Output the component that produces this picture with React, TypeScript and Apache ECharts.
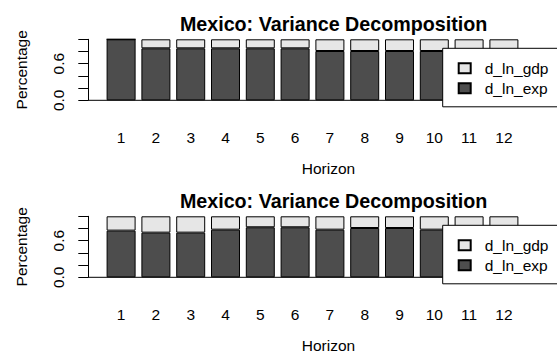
import React, { useEffect, useRef } from "react";
import * as echarts from "echarts";

const horizons = ["1", "2", "3", "4", "5", "6", "7", "8", "9", "10", "11", "12"];
const seriesNames = ["d_ln_exp", "d_ln_gdp"];
const topExp = [1.0, 0.852, 0.852, 0.852, 0.852, 0.852, 0.808, 0.808, 0.808, 0.808, 0.8, 0.8];
const topGdp = [0.0, 0.148, 0.148, 0.148, 0.148, 0.148, 0.192, 0.192, 0.192, 0.192, 0.2, 0.2];
const botExp = [0.765, 0.732, 0.732, 0.781, 0.82, 0.82, 0.781, 0.808, 0.808, 0.781, 0.78, 0.78];
const botGdp = [0.235, 0.268, 0.268, 0.219, 0.18, 0.18, 0.219, 0.192, 0.192, 0.219, 0.22, 0.22];
const yLabelsShown = ["0.0", "0.6"];
const panelTitle = "Mexico: Variance Decomposition";

const W = 557;
const H = 355;
const PANEL_DY = 177;
const GRID_LEFT = 103.7;
const GRID_RIGHT = W - 521.3;
const GRID_TOP = 39.3;
const GRID_H = 61;
const AXIS_X = 88.3;
const FONT = "Liberation Sans, Arial, sans-serif";
const BASE = 15.5;
const DARK = "#4D4D4D";
const LIGHT = "#E6E6E6";

export default function App() {
  const ref = useRef<HTMLDivElement>(null);
  useEffect(() => {
    if (!ref.current) return;
    const chart = echarts.init(ref.current, undefined, { renderer: "svg" });
    const panels = [
      { exp: topExp, gdp: topGdp },
      { exp: botExp, gdp: botGdp },
    ];
    const grids: any[] = [];
    const xAxes: any[] = [];
    const yAxes: any[] = [];
    const series: any[] = [];
    const titles: any[] = [];
    const legends: any[] = [];
    const graphics: any[] = [];
    panels.forEach((p, i) => {
      const dy = i * PANEL_DY;
      grids.push({ left: GRID_LEFT, right: GRID_RIGHT, top: GRID_TOP + dy, height: GRID_H });
      xAxes.push({
        type: "category",
        gridIndex: i,
        data: horizons,
        axisLine: { show: false },
        axisTick: { show: false },
        axisLabel: { color: "#000", fontFamily: FONT, fontSize: BASE, margin: 29 },
        name: "Horizon",
        nameLocation: "middle",
        nameGap: 60,
        nameTextStyle: { color: "#000", fontFamily: FONT, fontSize: BASE, padding: [0, 0, 0, 32] },
      });
      yAxes.push({
        type: "value",
        gridIndex: i,
        min: 0,
        max: 1,
        interval: 0.2,
        offset: GRID_LEFT - AXIS_X,
        splitLine: { show: false },
        axisLine: { show: true, lineStyle: { color: "#000", width: 1 } },
        axisTick: { show: true, length: 10, lineStyle: { color: "#000", width: 1 } },
        axisLabel: {
          rotate: 90,
          margin: 22,
          color: "#000",
          fontFamily: FONT,
          fontSize: BASE,
          formatter: (v: number) => {
            const s = v.toFixed(1);
            return yLabelsShown.includes(s) ? s : "";
          },
        },
        name: "Percentage",
        nameLocation: "middle",
        nameGap: 59,
        nameTextStyle: { color: "#000", fontFamily: FONT, fontSize: BASE },
      });
      series.push({
        name: seriesNames[0],
        type: "bar",
        stack: "s" + i,
        xAxisIndex: i,
        yAxisIndex: i,
        data: p.exp,
        barCategoryGap: "16.7%",
        itemStyle: { color: DARK, borderColor: "#000", borderWidth: 1 },
        z: 3,
      });
      series.push({
        name: seriesNames[1],
        type: "bar",
        stack: "s" + i,
        xAxisIndex: i,
        yAxisIndex: i,
        data: p.gdp,
        barCategoryGap: "16.7%",
        itemStyle: { color: LIGHT, borderColor: "#000", borderWidth: 1 },
        z: 3,
      });
      titles.push({
        text: panelTitle,
        left: 328.6,
        textAlign: "center",
        top: 8.5 + dy,
        textStyle: { color: "#000", fontFamily: FONT, fontSize: 19.7, fontWeight: "bold" },
      });
      legends.push({
        data: [seriesNames[1], seriesNames[0]],
        orient: "vertical",
        left: 442.7,
        top: 48.3 + dy,
        padding: [12, 200, 10.5, 15],
        itemWidth: 12,
        itemHeight: 10,
        itemGap: 4,
        icon: "rect",
        backgroundColor: "#fff",
        borderColor: "#000",
        borderWidth: 1,
        borderRadius: 0,
        selectedMode: false,
        textStyle: { color: "#000", fontFamily: FONT, fontSize: BASE, padding: [0, 0, 0, 9] },
        z: 10,
      });
      graphics.push({
        type: "line",
        z: 1,
        shape: { x1: AXIS_X, y1: GRID_TOP + GRID_H + dy, x2: W + 20, y2: GRID_TOP + GRID_H + dy },
        style: { stroke: "#000", lineWidth: 1 },
      });
    });
    chart.setOption({
      animation: false,
      backgroundColor: "#fff",
      title: titles,
      legend: legends,
      grid: grids,
      xAxis: xAxes,
      yAxis: yAxes,
      series,
      graphic: graphics,
    });
    return () => chart.dispose();
  }, []);
  return (
    <div
      ref={ref}
      style={{ position: "fixed", left: 0, top: 0, width: W, height: H }}
    />
  );
}
